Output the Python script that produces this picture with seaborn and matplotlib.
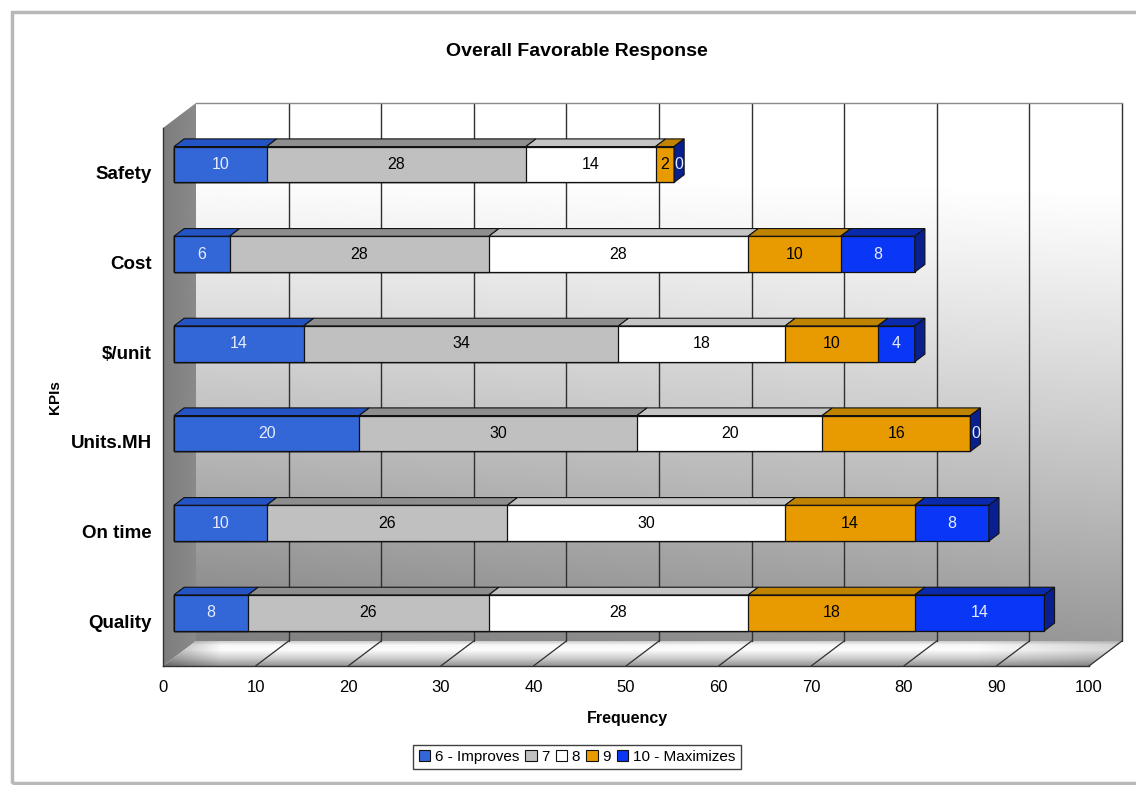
import numpy as np
import pandas as pd
import matplotlib
matplotlib.use("Agg")
import matplotlib.pyplot as plt
import seaborn as sns
from matplotlib.patches import Polygon, Patch, Rectangle
from matplotlib.transforms import ScaledTranslation
from matplotlib import font_manager

# ---- data -------------------------------------------------------------
categories = ["Safety", "Cost", "$/unit", "Units.MH", "On time", "Quality"]
series_names = ["6 - Improves", "7", "8", "9", "10 - Maximizes"]
s6 = [10, 6, 14, 20, 10, 8]
s7 = [28, 28, 34, 30, 26, 26]
s8 = [14, 28, 18, 20, 30, 28]
s9 = [2, 10, 10, 16, 14, 18]
s10 = [0, 8, 4, 0, 8, 14]
x_ticks = list(range(0, 101, 10))

series = [s6, s7, s8, s9, s10]
front_colors = ["#3366D6", "#C0C0C0", "#FFFFFF", "#E89B00", "#0A37F5"]
top_colors = ["#2453C4", "#8E8E8E", "#C4C4C4", "#C08300", "#0A2AAE"]
side_color = "#0A1F8E"
text_colors = ["#E6ECFF", "#000000", "#000000", "#000000", "#E6ECFF"]

sns.set_style("white")
installed = {f.name for f in font_manager.fontManager.ttflist}
narrow = "Liberation Sans Narrow" if "Liberation Sans Narrow" in installed else "Liberation Sans"
plt.rcParams["font.family"] = ["Liberation Sans", "DejaVu Sans"]
plt.rcParams.update({"text.color": "black", "axes.labelcolor": "black",
                     "xtick.color": "black", "ytick.color": "black"})

W, H = 1136, 785
fig = plt.figure(figsize=(W / 100, H / 100), dpi=100)
fig.patch.set_facecolor("white")

# background layer in pixel units (y up)
bg = fig.add_axes([0, 0, 1, 1], zorder=0)
bg.set_xlim(0, W)
bg.set_ylim(0, H)
bg.axis("off")

# front plane of the 3D box
L, R, T, B = 163, 1089, 128, 666
ax = fig.add_axes([L / W, 1 - B / H, (R - L) / W, (B - T) / H], zorder=1)
ax.patch.set_visible(False)
ax.set_xlim(0, 100)
ax.set_ylim(5.5, -0.5)

DX, DY = 33.0, 25.0          # full depth offset in pixels
D_FRONT, D_BACK = 1 / 3, 0.64  # bar depth range


def to_px(x, y, d=0.0):
    p = ax.transData.transform((x, y))
    q = bg.transData.inverted().transform(p)
    return (q[0] + d * DX, q[1] + d * DY)


def gradient_fill(poly_pts, img, zorder):
    poly = Polygon(poly_pts, closed=True, facecolor="none", edgecolor="none",
                   transform=bg.transData)
    bg.add_patch(poly)
    xs = [p[0] for p in poly_pts]
    ys = [p[1] for p in poly_pts]
    im = bg.imshow(img, extent=(min(xs), max(xs), min(ys), max(ys)), origin="upper",
                   cmap="gray", vmin=0, vmax=1, aspect="auto", interpolation="bilinear",
                   zorder=zorder)
    im.set_clip_path(poly)


# back wall: white at top fading to gray towards the floor
back = [to_px(0, -0.5, 1), to_px(100, -0.5, 1), to_px(100, 5.5, 1), to_px(0, 5.5, 1)]
ty = np.linspace(0, 1, 200)[:, None]
tx = np.linspace(0, 1, 200)[None, :]
wall = 1.0 - 0.50 * np.clip((ty - 0.12) / 0.88, 0, 1) ** 1.1 + 0.10 * tx * ty
gradient_fill(back, np.clip(wall, 0, 1), 1)

# left wall
left = [to_px(0, -0.5, 0), to_px(0, -0.5, 1), to_px(0, 5.5, 1), to_px(0, 5.5, 0)]
lw_img = np.tile(np.linspace(0.49, 0.54, 50)[None, :], (200, 1))
gradient_fill(left, lw_img, 1)

# floor
floor = [to_px(0, 5.5, 0), to_px(100, 5.5, 0), to_px(100, 5.5, 1), to_px(0, 5.5, 1)]
fy = np.linspace(0, 1, 60)[:, None]
fx = np.linspace(0, 1, 400)[None, :]
prof = np.interp(fy, [0, 0.15, 0.35, 0.7, 1.0], [0.80, 0.97, 0.99, 0.80, 0.58])
edge = 1 - 0.30 * np.clip(1 - fx / 0.06, 0, 1) - 0.15 * np.clip((fx - 0.85) / 0.15, 0, 1)
gradient_fill(floor, np.clip(prof * edge, 0, 1), 1)

# gridlines on the back wall and floor
for xv in x_ticks[1:]:
    p0, p1 = to_px(xv, 5.5, 1), to_px(xv, -0.5, 1)
    bg.plot([p0[0], p1[0]], [p0[1], p1[1]], color="#303030", lw=1.0, zorder=2)
    f0, f1 = to_px(xv, 5.5, 0), to_px(xv, 5.5, 1)
    bg.plot([f0[0], f1[0]], [f0[1], f1[1]], color="#303030", lw=0.9, zorder=2)
p0, p1 = to_px(0, -0.5, 1), to_px(100, -0.5, 1)
bg.plot([p0[0], p1[0]], [p0[1], p1[1]], color="#8a8a8a", lw=1.0, zorder=2)

# ---- stacked bars: front faces drawn with seaborn ---------------------
df = pd.DataFrame({"KPI": categories})
cum = np.zeros(len(categories))
cums = []
for vals in series:
    cum = cum + np.array(vals, dtype=float)
    cums.append(cum.copy())
for k in range(len(series) - 1, -1, -1):
    df["total"] = cums[k]
    sns.barplot(data=df, x="total", y="KPI", orient="h", color=front_colors[k],
                saturation=1, width=0.4, edgecolor="#111111", linewidth=0.9, ax=ax)

shift = ax.transData + ScaledTranslation(D_FRONT * DX / 100, D_FRONT * DY / 100,
                                         fig.dpi_scale_trans)
for p in ax.patches:
    p.set_transform(shift)
    p.set_clip_on(False)
    p.set_zorder(3)

ax.set_xlim(0, 100)
ax.set_ylim(5.5, -0.5)

# top and side faces, value labels
for i in range(len(categories)):
    start = 0.0
    for k, vals in enumerate(series):
        v = vals[i]
        end = start + v
        if v > 0:
            top = [to_px(start, i - 0.2, D_FRONT), to_px(end, i - 0.2, D_FRONT),
                   to_px(end, i - 0.2, D_BACK), to_px(start, i - 0.2, D_BACK)]
            ax.add_patch(Polygon(top, closed=True, facecolor=top_colors[k],
                                 edgecolor="#111111", lw=0.8, transform=bg.transData,
                                 clip_on=False, zorder=3))
        cx, cy = to_px((start + end) / 2, i, D_FRONT)
        if v == 0:
            cx += 5
        ax.text(cx, cy, str(v), transform=bg.transData, ha="center", va="center",
                fontsize=11.5, family=[narrow, "DejaVu Sans"], color=text_colors[k],
                zorder=5, clip_on=False)
        start = end
    side = [to_px(start, i - 0.2, D_FRONT), to_px(start, i + 0.2, D_FRONT),
            to_px(start, i + 0.2, D_BACK), to_px(start, i - 0.2, D_BACK)]
    ax.add_patch(Polygon(side, closed=True, facecolor=side_color, edgecolor="#111111",
                         lw=0.8, transform=bg.transData, clip_on=False, zorder=4))

# ---- axes styling -----------------------------------------------------
for s in ["top", "right"]:
    ax.spines[s].set_visible(False)
for s in ["left", "bottom"]:
    ax.spines[s].set_color("#333333")
    ax.spines[s].set_linewidth(1.0)

ax.set_xticks(x_ticks)
ax.set_xticklabels([str(t) for t in x_ticks], family=[narrow, "DejaVu Sans"], fontsize=12)
ax.tick_params(axis="x", direction="out", length=6, width=1, color="#333333", pad=4)
ax.set_yticks(range(len(categories)))
ax.set_yticklabels(categories, fontsize=13.5, fontweight="bold")
ax.tick_params(axis="y", which="major", length=0, pad=8)
ax.set_yticks(np.arange(-0.5, 6.0, 1.0), minor=True)
ax.tick_params(axis="y", which="minor", direction="out", length=6, width=1, color="#333333")
ax.grid(False)
ax.set_xlabel("")
ax.set_ylabel("")

fig.text(577 / W, 1 - 51 / H, "Overall Favorable Response", ha="center", va="center",
         fontsize=14, fontweight="bold")
fig.text(627 / W, 1 - 718 / H, "Frequency", ha="center", va="center",
         fontsize=11.5, fontweight="bold")
fig.text(55 / W, 1 - 397 / H, "KPIs", ha="center", va="center", rotation=90,
         fontsize=11, fontweight="bold")

handles = [Patch(facecolor=c, edgecolor="#111111", lw=0.8) for c in front_colors]
leg = fig.legend(handles, series_names, loc="center", bbox_to_anchor=(577 / W, 1 - 757 / H),
                 ncol=5, frameon=True, fancybox=False, fontsize=11, handlelength=0.75,
                 handleheight=0.75, handletextpad=0.3, columnspacing=0.4,
                 borderpad=0.35, borderaxespad=0)
leg.get_frame().set_edgecolor("#111111")
leg.get_frame().set_linewidth(1.0)

# outer chart border
bg.add_patch(Rectangle((12, 2), 1140, 771, facecolor="none", edgecolor="#b8b8b8",
                       lw=2.5, zorder=0.5, clip_on=False))

fig.savefig("out.png", dpi=100)
